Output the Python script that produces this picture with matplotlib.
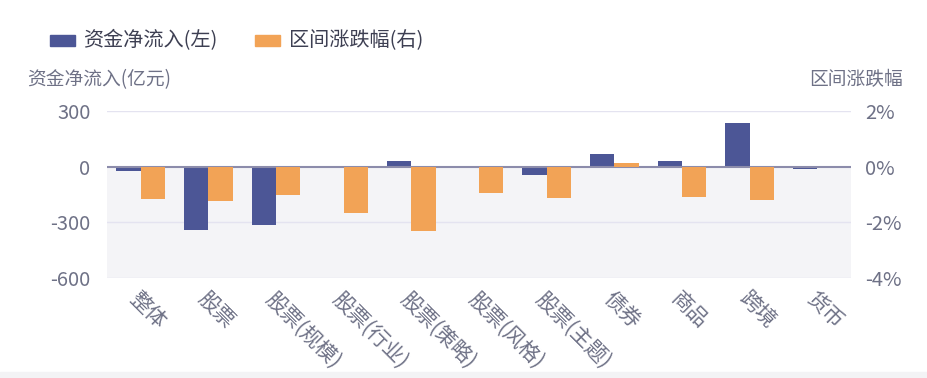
import matplotlib
matplotlib.use("Agg")
import matplotlib.pyplot as plt
from matplotlib.patches import Rectangle
import numpy as np

plt.rcParams["font.family"] = ["Noto Sans CJK SC", "DejaVu Sans"]
plt.rcParams["axes.unicode_minus"] = False

categories = ["整体", "股票", "股票(规模)", "股票(行业)", "股票(策略)", "股票(风格)",
              "股票(主题)", "债券", "商品", "跨境", "货币"]
net_inflow = [-25, -339, -314, -3, 32, -2, -46, 70, 30, 236, -10]
pct_change = [-1.15, -1.23, -1.01, -1.67, -2.32, -0.94, -1.13, 0.14, -1.08, -1.19, 0.0]

BLUE = "#4c5696"
ORANGE = "#f2a356"
TXT = "#6e7186"

fig = plt.figure(figsize=(9.27, 3.78), dpi=100)
fig.patches.append(Rectangle((0, 0), 1, 6 / 378, transform=fig.transFigure,
                             color="#f3f3f5", zorder=0))

ax = fig.add_axes([107 / 927, 100 / 378, 744 / 927, 167 / 378])
ax2 = ax.twinx()

x = np.arange(len(categories))
w = 0.36
ax.axhspan(-600, 0, color="#f4f4f7", zorder=0)
for yv in (300, -300, -600):
    ax.axhline(yv, color="#e4e3f0", lw=1, zorder=1)
ax.bar(x - w / 2, net_inflow, w, color=BLUE, zorder=2)
ax2.bar(x + w / 2, pct_change, w, color=ORANGE, zorder=2)
ax.axhline(0, color="#8c8cab", lw=1.5, zorder=3)

ax.set_xlim(-0.5, len(categories) - 0.5)
ax.set_ylim(-600, 300)
ax2.set_ylim(-4, 2)
ax.set_yticks([300, 0, -300, -600])
ax2.set_yticks([2, 0, -2, -4])
ax2.set_yticklabels(["2%", "0%", "-2%", "-4%"])

for a in (ax, ax2):
    for s in a.spines.values():
        s.set_visible(False)
    a.tick_params(length=0, labelsize=14.5, labelcolor=TXT)
    a.patch.set_visible(False)
ax.tick_params(axis="y", pad=12)
ax2.tick_params(axis="y", pad=10)

ax.set_xticks(x)
ax.set_xticklabels(categories, rotation=-45, ha="left", va="top",
                   rotation_mode="anchor", fontsize=15)
ax.tick_params(axis="x", pad=7)

fig.text(27 / 927, 1 - 80 / 378, "资金净流入(亿元)", fontsize=13.5, color=TXT,
         ha="left", va="center")
fig.text(903 / 927, 1 - 80 / 378, "区间涨跌幅", fontsize=13.5, color=TXT,
         ha="right", va="center")

# legend
fig.patches.append(Rectangle((50 / 927, 1 - 46 / 378), 25 / 927, 11 / 378,
                             transform=fig.transFigure, color=BLUE))
fig.text(83 / 927, 1 - 41 / 378, "资金净流入(左)", fontsize=14.5, color="#3d3f52",
         ha="left", va="center")
fig.patches.append(Rectangle((255 / 927, 1 - 46 / 378), 25 / 927, 11 / 378,
                             transform=fig.transFigure, color=ORANGE))
fig.text(289 / 927, 1 - 41 / 378, "区间涨跌幅(右)", fontsize=14.5, color="#3d3f52",
         ha="left", va="center")

fig.savefig("out.png", dpi=100)
